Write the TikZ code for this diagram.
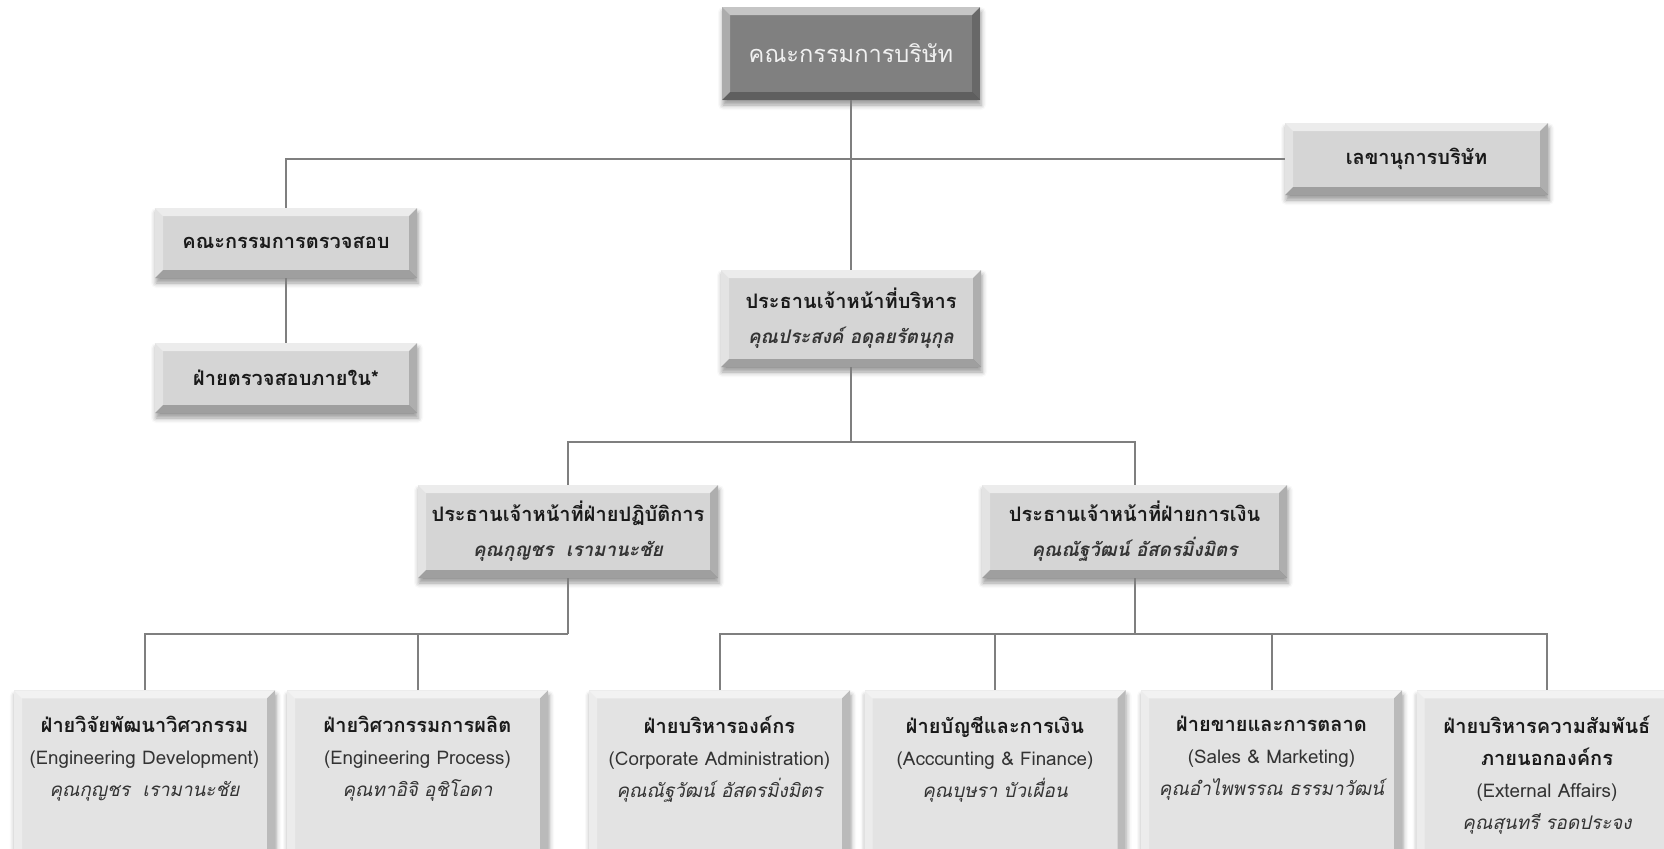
\documentclass[tikz,border=0pt]{standalone}
\usepackage{fontspec}
\setmainfont{Liberation Sans}
\newfontfamily\thai[Script=Thai]{Loma}
\usetikzlibrary{shadows.blur}
\definecolor{linegray}{HTML}{7F7F7F}
\definecolor{boxgray}{HTML}{D5D5D5}
\definecolor{boxlight}{HTML}{E3E3E3}
\definecolor{topgray}{HTML}{808080}
\definecolor{txt}{HTML}{1A1A1A}
\definecolor{subtxt}{HTML}{333333}
\newcommand\tb[1]{{\thai\bfseries #1}}
\newcommand\ti[1]{{\color{subtxt}\thai\itshape\fontsize{9.4}{16}\selectfont #1}}
\newcommand\en[1]{{\color{subtxt}\fontsize{9.4}{16}\selectfont #1}}
\tikzset{
  bevel/.style={path picture={
    \fill[white,opacity=0.55] (path picture bounding box.north west) -- (path picture bounding box.north east) -- ([shift={(-4pt,-4pt)}]path picture bounding box.north east) -- ([shift={(4pt,-4pt)}]path picture bounding box.north west) -- cycle;
    \fill[white,opacity=0.35] (path picture bounding box.north west) -- ([shift={(4pt,-4pt)}]path picture bounding box.north west) -- ([shift={(4pt,4pt)}]path picture bounding box.south west) -- (path picture bounding box.south west) -- cycle;
    \fill[black,opacity=0.18] (path picture bounding box.north east) -- ([shift={(-4pt,-4pt)}]path picture bounding box.north east) -- ([shift={(-4pt,4pt)}]path picture bounding box.south east) -- (path picture bounding box.south east) -- cycle;
    \fill[black,opacity=0.25] (path picture bounding box.south west) -- ([shift={(4pt,4pt)}]path picture bounding box.south west) -- ([shift={(-4pt,4pt)}]path picture bounding box.south east) -- (path picture bounding box.south east) -- cycle;
  }},
  orgbox/.style={fill=boxgray, bevel, inner sep=0pt, align=center, text=txt,
    blur shadow={shadow xshift=0.5pt, shadow yshift=-2.5pt, shadow blur radius=2.5pt, shadow opacity=40},
    font=\thai\bfseries\fontsize{10}{17.5}\selectfont},
  topbox/.style={orgbox, fill=topgray, text=white!94!black,
    font=\thai\fontsize{11.8}{15}\selectfont},
  unitbox/.style={orgbox, fill=boxlight, anchor=north, minimum width=130.5pt,
    inner ysep=13pt, text depth=140pt, font=\thai\fontsize{10}{16}\selectfont},
  conn/.style={draw=linegray, line width=1pt}
}
\begin{document}
\begin{tikzpicture}[x=0.5pt,y=-0.5pt]
\path[use as bounding box] (0,0) rectangle (1664,848);
\clip (0,0) rectangle (1664,848);
% top level
\node[topbox, minimum width=129pt, minimum height=46.5pt] (board) at (851,53.5) {คณะกรรมการบริษัท};
\node[orgbox, minimum width=131.5pt, minimum height=36pt] (sec) at (1416.5,159) {เลขานุการบริษัท};
\node[orgbox, minimum width=131pt, minimum height=35pt] (audit) at (286,243) {คณะกรรมการตรวจสอบ};
\node[orgbox, minimum width=131pt, minimum height=35pt] (internal) at (286,378) {ฝ่ายตรวจสอบภายใน*};
\node[orgbox, minimum width=130pt, minimum height=48.5pt] (ceo) at (851,318.5) {ประธานเจ้าหน้าที่บริหาร\\\ti{คุณประสงค์ อดุลยรัตนุกุล}};
\node[orgbox, minimum width=150pt, minimum height=46.5pt] (coo) at (568,531.5) {ประธานเจ้าหน้าที่ฝ่ายปฏิบัติการ\\\ti{คุณกุญชร~ เรามานะชัย}};
\node[orgbox, minimum width=152.5pt, minimum height=46.5pt] (cfo) at (1134.5,531.5) {ประธานเจ้าหน้าที่ฝ่ายการเงิน\\\ti{คุณณัฐวัฒน์ อัสดรมิ่งมิตร}};
% units
\node[unitbox] (u1) at (144.5,690) {\tb{ฝ่ายวิจัยพัฒนาวิศวกรรม}\\\en{(Engineering Development)}\\\ti{คุณกุญชร~ เรามานะชัย}};
\node[unitbox] (u2) at (417.5,690) {\tb{ฝ่ายวิศวกรรมการผลิต}\\\en{(Engineering Process)}\\\ti{คุณทาอิจิ อุชิโอดา}};
\node[unitbox] (u3) at (719.5,690) {\tb{ฝ่ายบริหารองค์กร}\\\en{(Corporate Administration)}\\\ti{คุณณัฐวัฒน์ อัสดรมิ่งมิตร}};
\node[unitbox] (u4) at (995,690) {\tb{ฝ่ายบัญชีและการเงิน}\\\en{(Acccunting \& Finance)}\\\ti{คุณบุษรา บัวเผื่อน}};
\node[unitbox] (u5) at (1271.5,690) {\tb{ฝ่ายขายและการตลาด}\\\en{(Sales \& Marketing)}\\\ti{คุณอำไพพรรณ ธรรมาวัฒน์}};
\node[unitbox] (u6) at (1547,690) {\tb{ฝ่ายบริหารความสัมพันธ์}\\\tb{ภายนอกองค์กร}\\\en{(External Affairs)}\\\ti{คุณสุนทรี รอดประจง}};
% connectors
\draw[conn] (audit.north) |- (sec.west);
\draw[conn] (board.south) -- (ceo.north);
\draw[conn] (audit.south) -- (internal.north);
\coordinate (j1) at (851,442);
\draw[conn] (ceo.south) -- (j1);
\draw[conn] (coo.north) |- (j1) -| (cfo.north);
\coordinate (j2) at (568,634);
\draw[conn] (coo.south) -- (j2);
\draw[conn] (u1.north) |- (j2);
\draw[conn] (u2.north) -- (u2.north |- j2);
\coordinate (j3) at (1134.5,634);
\draw[conn] (cfo.south) -- (j3);
\draw[conn] (u3.north) |- (j3) -| (u6.north);
\draw[conn] (u4.north) -- (u4.north |- j3);
\draw[conn] (u5.north) -- (u5.north |- j3);
\end{tikzpicture}
\end{document}
